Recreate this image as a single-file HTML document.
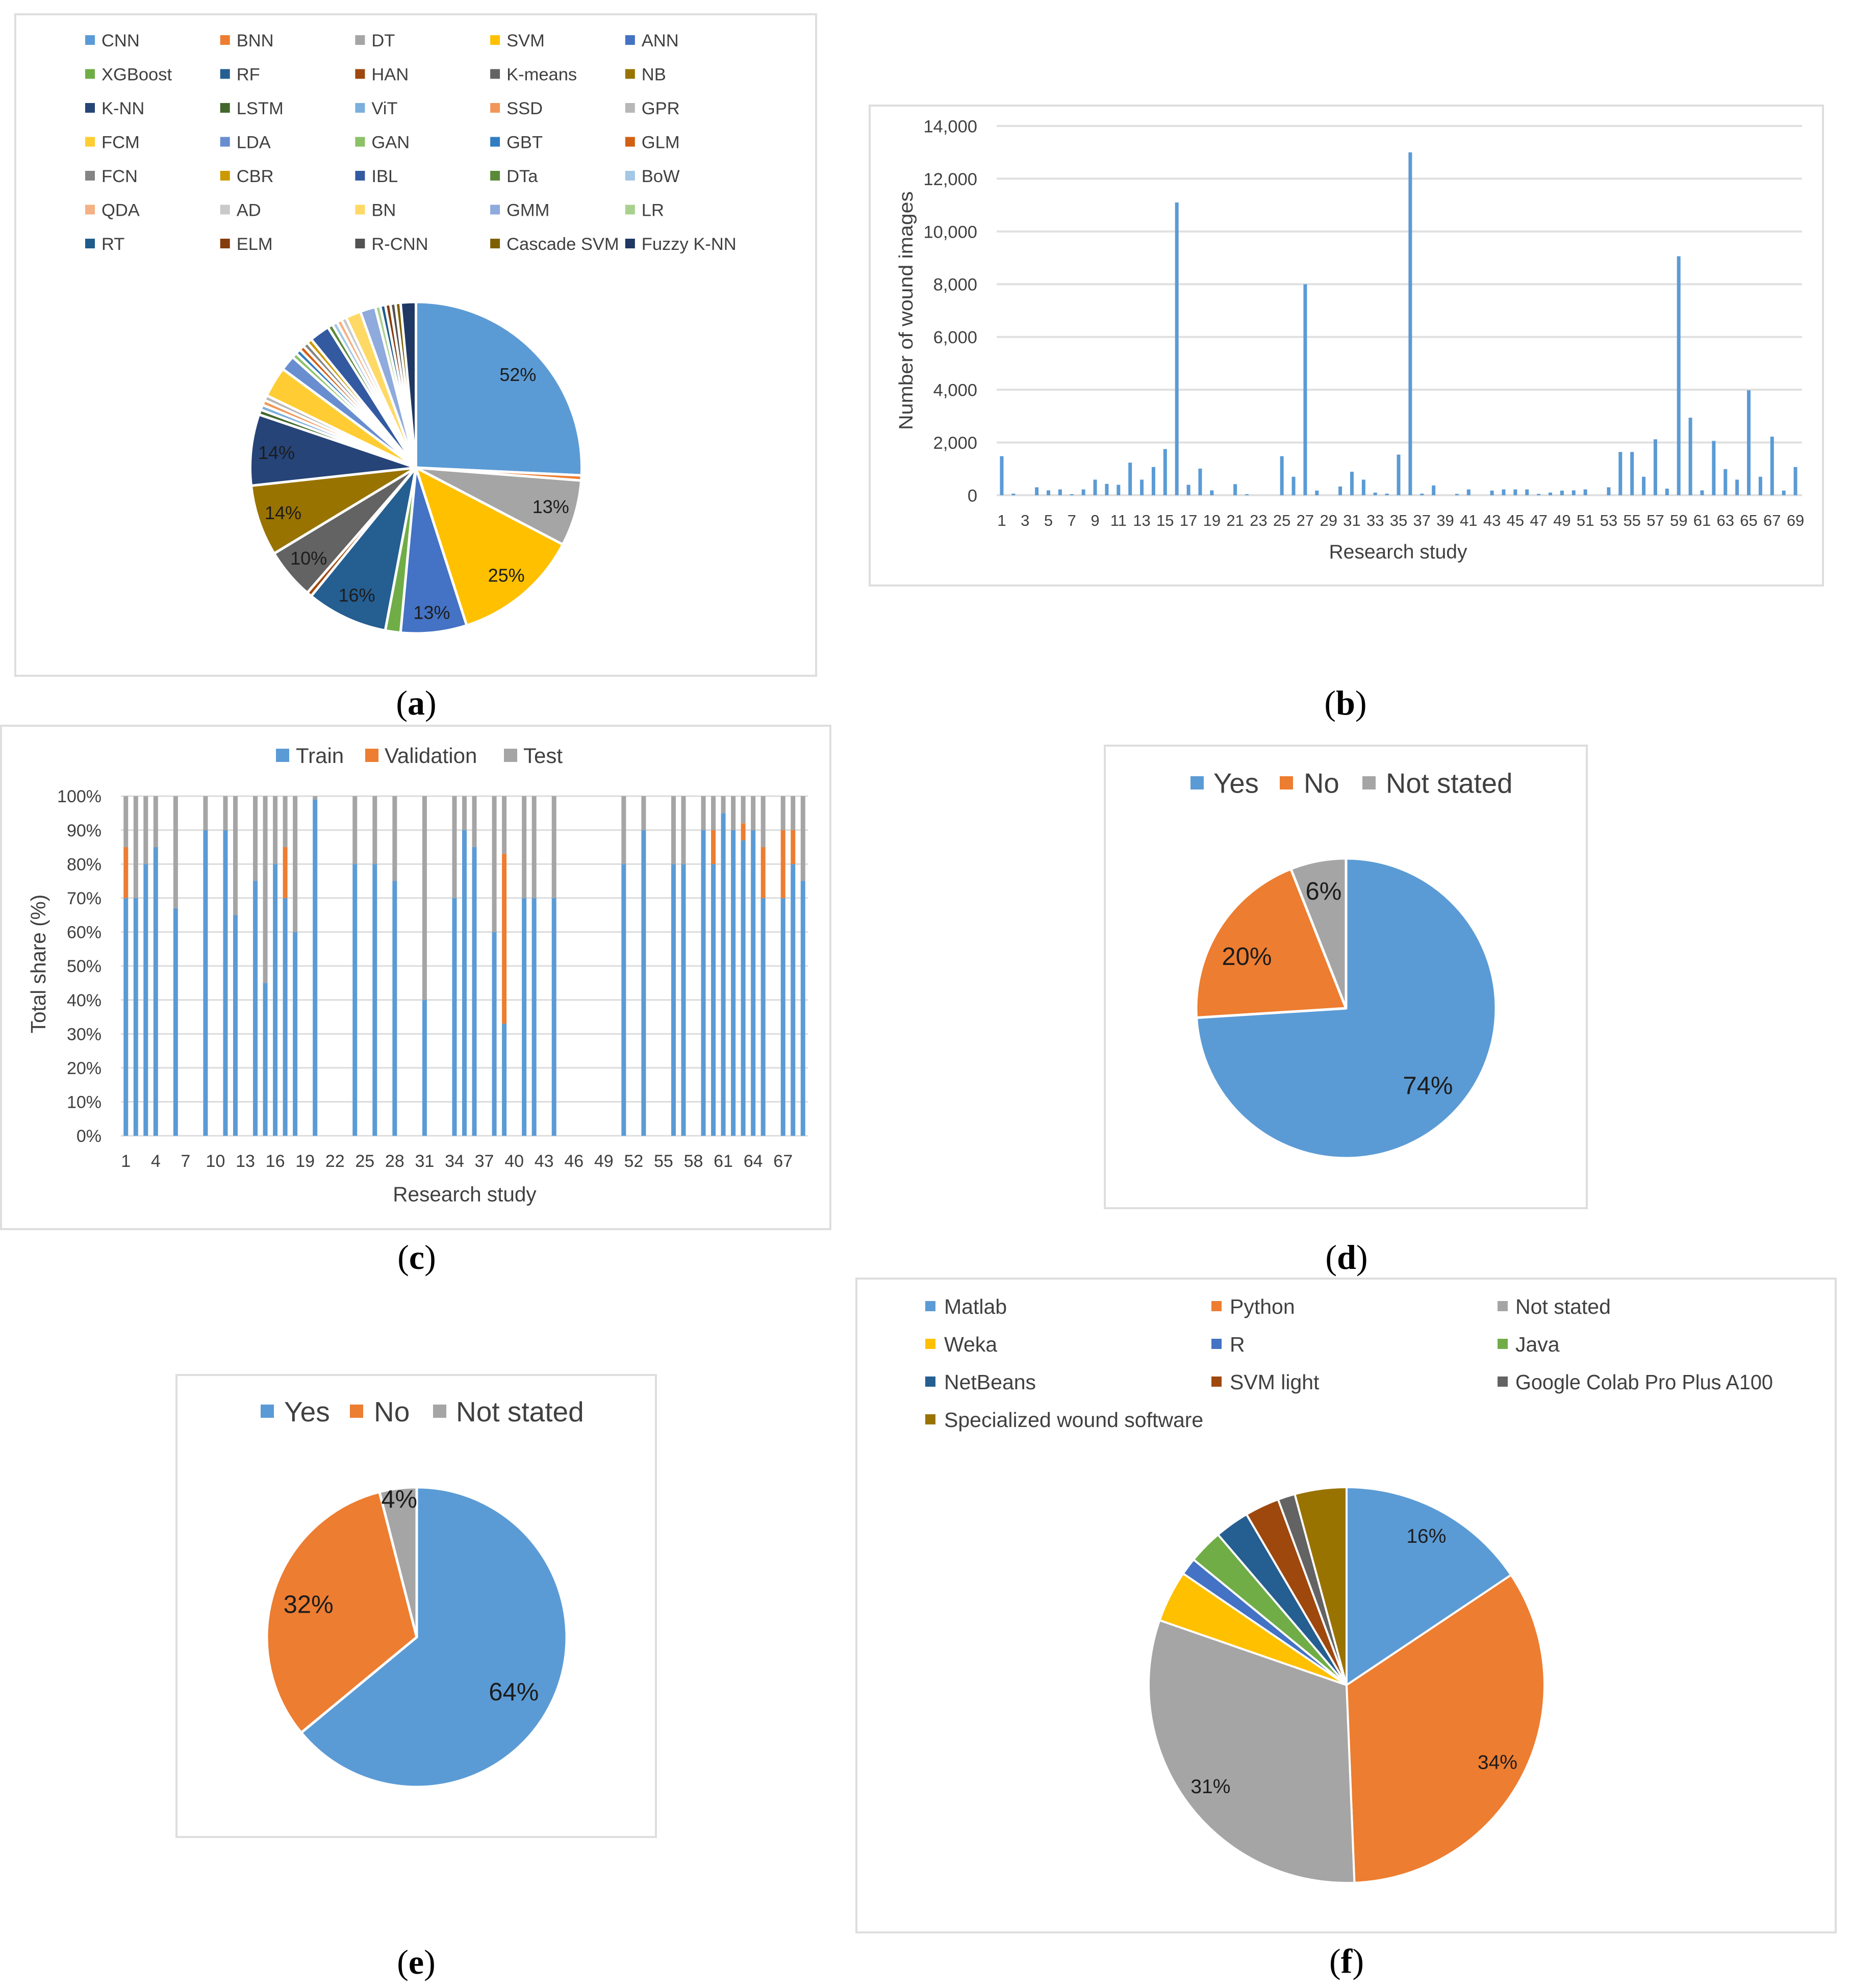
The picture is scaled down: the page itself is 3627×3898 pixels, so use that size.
<!DOCTYPE html>
<html lang="en">
<head>
<meta charset="utf-8">
<title>Wound image analysis study charts</title>
<style>
html,body{margin:0;padding:0;background:#fff;}
body{width:3627px;height:3898px;overflow:hidden;}
svg{display:block;}
text{font-family:"Liberation Sans",sans-serif;}
.cap{font-family:"Liberation Serif",serif;font-size:68px;fill:#000;text-anchor:middle;}
.cap tspan{font-weight:bold;}
.frame{fill:#fff;stroke:#dedede;stroke-width:4;}
</style>
</head>
<body>
<svg id="figure" xmlns="http://www.w3.org/2000/svg" width="3627" height="3898" viewBox="0 0 3627 3898">
  <rect class="frame" x="30" y="28" width="1570" height="1297"/>
  <rect class="frame" x="1705" y="207" width="1869" height="941"/>
  <rect class="frame" x="2" y="1423" width="1626" height="987"/>
  <rect class="frame" x="2166" y="1462" width="945" height="907"/>
  <rect class="frame" x="346" y="2696" width="940" height="906"/>
  <rect class="frame" x="1679" y="2507" width="1920" height="1282"/>
  <g id="chart-a"></g>
  <g id="chart-b"></g>
  <g id="chart-c"></g>
  <g id="chart-d"></g>
  <g id="chart-e"></g>
  <g id="chart-f"></g>
  <text class="cap" x="816" y="1401">(<tspan>a</tspan>)</text>
  <text class="cap" x="2638" y="1401">(<tspan>b</tspan>)</text>
  <text class="cap" x="817" y="2488">(<tspan>c</tspan>)</text>
  <text class="cap" x="2640" y="2488">(<tspan>d</tspan>)</text>
  <text class="cap" x="816" y="3870">(<tspan>e</tspan>)</text>
  <text class="cap" x="2640" y="3868">(<tspan>f</tspan>)</text>
</svg>
<script>
/* ---------- chart data ---------- */
const algorithmNames = ['CNN','BNN','DT','SVM','ANN','XGBoost','RF','HAN','K-means','NB','K-NN','LSTM','ViT','SSD','GPR','FCM','LDA','GAN','GBT','GLM','FCN','CBR','IBL','DTa','BoW','QDA','AD','BN','GMM','LR','RT','ELM','R-CNN','Cascade SVM','Fuzzy K-NN'];
const algorithmValues = [52,1,13,25,13,3,16,1,10,14,14,1,1,1,1,6,3,1,1,1,1,1,4,1,1,1,1,3,3,1,1,1,1,1,3];
const algorithmColors = ['#5B9BD5','#ED7D31','#A5A5A5','#FFC000','#4472C4','#70AD47','#255E91','#9E480E','#636363','#997300','#264478','#43682B','#7CAFDD','#F1975A','#B7B7B7','#FFCD33','#698ED0','#8CC168','#327DC2','#D26012','#848484','#CC9A00','#335AA1','#5A8A39','#A3C7E5','#F4B183','#C9C9C9','#FFD966','#8FAADC','#A9D18E','#1F5C8C','#843C0C','#525252','#7F6000','#1F3864'];

const imageCounts = [1480,60,0,300,185,220,40,220,590,430,395,1235,590,1070,1750,11100,395,1010,185,0,420,40,0,0,1480,700,8000,175,0,330,890,590,100,60,1540,13000,60,370,0,50,220,0,175,220,220,220,50,100,175,185,220,0,300,1640,1640,700,2120,250,9060,2940,185,2060,990,590,3980,700,2220,175,1070];
const imageTicks = [0,2000,4000,6000,8000,10000,12000,14000];

const trainShare = [70,70,80,85,0,67,0,0,90,0,90,65,0,75,45,80,70,60,0,99,0,0,0,80,0,80,0,75,0,0,40,0,0,70,90,85,0,60,33,0,70,70,0,70,0,0,0,0,0,0,80,0,90,0,0,80,80,0,90,80,95,90,87,90,70,0,70,80,75];
const validationShare = [15,0,0,0,0,0,0,0,0,0,0,0,0,0,0,0,15,0,0,0,0,0,0,0,0,0,0,0,0,0,0,0,0,0,0,0,0,0,50,0,0,0,0,0,0,0,0,0,0,0,0,0,0,0,0,0,0,0,0,10,0,0,5,0,15,0,20,10,0];
const testShare = [15,30,20,15,0,33,0,0,10,0,10,35,0,25,55,20,15,40,0,1,0,0,0,20,0,20,0,25,0,0,60,0,0,30,10,15,0,40,17,0,30,30,0,30,0,0,0,0,0,0,20,0,10,0,0,20,20,0,10,10,5,10,8,10,15,0,10,10,25];
const shareTicks = [0,10,20,30,40,50,60,70,80,90,100];
const splitNames = ['Train','Validation','Test'];

const answerNames = ['Yes','No','Not stated'];
const answerColors = ['#5B9BD5','#ED7D31','#A5A5A5'];
const answerValuesD = [74,20,6];
const answerValuesE = [64,32,4];

const softwareNames = ['Matlab','Python','Not stated','Weka','R','Java','NetBeans','SVM light','Google Colab Pro Plus A100','Specialized wound software'];
const softwareValues = [11.1,24,22,3,1,2,2,2,1,3];
const softwareColors = ['#5B9BD5','#ED7D31','#A5A5A5','#FFC000','#4472C4','#70AD47','#255E91','#9E480E','#636363','#997300'];

/* ---------- helpers ---------- */
const NS = 'http://www.w3.org/2000/svg';
const TEXT_GREY = '#404040';
function make(parent, tag, attrs) {
  const node = document.createElementNS(NS, tag);
  for (const k in attrs) node.setAttribute(k, attrs[k]);
  parent.appendChild(node);
  return node;
}
function write(parent, x, yCenter, str, size, anchor, fill) {
  const node = make(parent, 'text', {x: x, y: yCenter + size * 0.36, 'font-size': size, 'text-anchor': anchor, fill: fill});
  node.textContent = str;
  return node;
}
function kebab(s) {
  return String(s).toLowerCase().replace(/[^a-z0-9]+/g, '-');
}
function polar(cx, cy, r, deg) {
  const a = deg * Math.PI / 180;
  return [cx + r * Math.sin(a), cy - r * Math.cos(a)];
}
function drawPie(g, cx, cy, r, values, colors, names, labels, labelR, labelNudge, labelSize, gap) {
  const total = values.reduce(function (s, v) { return s + v; }, 0);
  let start = 0;
  const mids = [];
  values.forEach(function (v, i) {
    const sweep = v / total * 360;
    const p0 = polar(cx, cy, r, start);
    const p1 = polar(cx, cy, r, start + sweep);
    const slice = make(g, 'path', {
      d: 'M' + cx + ' ' + cy + 'L' + p0[0] + ' ' + p0[1] + 'A' + r + ' ' + r + ' 0 ' + (sweep > 180 ? 1 : 0) + ' 1 ' + p1[0] + ' ' + p1[1] + 'Z',
      fill: colors[i], stroke: '#fff', 'stroke-width': gap, 'stroke-linejoin': 'round'
    });
    
    
    mids.push(start + sweep / 2);
    start += sweep;
  });
  labels.forEach(function (str, i) {
    if (!str) return;
    const radius = Array.isArray(labelR) ? labelR[i] : labelR;
    const nudge = labelNudge ? labelNudge[i] : 0;
    const p = polar(cx, cy, radius, mids[i] + nudge);
    const t = write(g, p[0], p[1], str, labelSize, 'middle', '#1c1c1c');
    
    
  });
}
function legendItem(g, mx, cy, mSize, tx, str, color, size) {
  const swatch = make(g, 'rect', {x: mx, y: cy - mSize / 2, width: mSize, height: mSize, fill: color});
  
  
  const t = write(g, tx, cy, str, size, 'start', TEXT_GREY);
  
  
  return t;
}

/* ---------- (a) algorithms pie ---------- */
(function () {
  const g = document.getElementById('chart-a');
  algorithmNames.forEach(function (name, i) {
    const col = i % 5, row = Math.floor(i / 5);
    legendItem(g, 167 + col * 264.7, 78.5 + row * 66.5, 19, 199 + col * 264.7, name, algorithmColors[i], 34.5);
  });
  const labels = algorithmValues.map(function (v) { return v >= 10 ? v + '%' : ''; });
  const labelRadius = algorithmValues.map(function (v, i) { return i === 0 ? 271 : (i === 4 ? 285 : 275); });
  const labelNudge = algorithmValues.map(function (v, i) { return i === 0 ? 1.2 : 0; });
  drawPie(g, 815.5, 917, 325, algorithmValues, algorithmColors, algorithmNames, labels, labelRadius, labelNudge, 36, 5);
})();

/* ---------- (b) wound images bars ---------- */
(function () {
  const g = document.getElementById('chart-b');
  const left = 1954, right = 3533, top = 247, bottom = 971;
  const maxY = imageTicks[imageTicks.length - 1];
  const yScale = function (v) { return bottom - v / maxY * (bottom - top); };
  const step = (right - left) / imageCounts.length;
  const xScale = function (i) { return left + step * (i + 0.5); };
  imageTicks.forEach(function (v) {
    const y = yScale(v);
    const line = make(g, 'line', {x1: left, x2: right, y1: y, y2: y, stroke: '#e0e0e0', 'stroke-width': 4});
    
    
    const t = write(g, 1916, y, v.toLocaleString('en-US'), 34.5, 'end', TEXT_GREY);
    
    
  });
  imageCounts.forEach(function (v, i) {
    if (v > 0) {
      const bar = make(g, 'rect', {x: xScale(i) - 5, y: yScale(v), width: 7, height: bottom - yScale(v), fill: '#5B9BD5'});
      
      
    }
    if (i % 2 === 0) {
      const t = write(g, xScale(i) - 1.5, 1020, String(i + 1), 31, 'middle', TEXT_GREY);
      
      
    }
  });
  const xt = write(g, 2741, 1081, 'Research study', 39, 'middle', TEXT_GREY);
  
  
  const yt = make(g, 'text', {x: 0, y: 0, 'font-size': 38, 'text-anchor': 'middle', fill: TEXT_GREY, textLength: 468, lengthAdjust: 'spacingAndGlyphs', transform: 'translate(1789 609) rotate(-90)'});
  yt.textContent = 'Number of wound images';
  
  
})();

/* ---------- (c) train / validation / test stacked bars ---------- */
(function () {
  const g = document.getElementById('chart-c');
  const left = 237, right = 1584, top = 1561, bottom = 2227;
  const yScale = function (v) { return bottom - v / 100 * (bottom - top); };
  const step = (right - left) / trainShare.length;
  const xScale = function (i) { return left + step * (i + 0.5); };
  shareTicks.forEach(function (v) {
    const y = yScale(v);
    const line = make(g, 'line', {x1: left, x2: right, y1: y, y2: y, stroke: '#dcdcdc', 'stroke-width': 3});
    
    
    const t = write(g, 199, y, v + '%', 34, 'end', TEXT_GREY);
    
    
  });
  trainShare.forEach(function (v, i) {
    const stack = [v, validationShare[i], testShare[i]];
    const fills = answerColors;
    let base = 0;
    stack.forEach(function (part, s) {
      if (part > 0) {
        const seg = make(g, 'rect', {x: xScale(i) - 4.5, y: yScale(base + part), width: 9, height: yScale(base) - yScale(base + part), fill: fills[s]});
        
        
      }
      base += part;
    });
    if (i % 3 === 0) {
      const t = write(g, xScale(i), 2276, String(i + 1), 34, 'middle', TEXT_GREY);
      
      
    }
  });
  const swatchX = [541, 716, 988];
  const labelX = [580, 754, 1026];
  splitNames.forEach(function (name, i) {
    legendItem(g, swatchX[i], 1481, 26, labelX[i], name, answerColors[i], 42);
  });
  const xt = write(g, 911, 2341, 'Research study', 40.5, 'middle', TEXT_GREY);
  
  
  const yt = make(g, 'text', {x: 0, y: 0, 'font-size': 40.5, 'text-anchor': 'middle', fill: TEXT_GREY, transform: 'translate(89 1890) rotate(-90)'});
  yt.textContent = 'Total share (%)';
  
  
})();

/* ---------- (d) and (e) yes / no pies ---------- */
(function () {
  const gd = document.getElementById('chart-d');
  const swatchD = [2334, 2509, 2671];
  const textD = [2379, 2556, 2717];
  answerNames.forEach(function (name, i) {
    legendItem(gd, swatchD[i], 1535, 26, textD[i], name, answerColors[i], 54.5);
  });
  drawPie(gd, 2639, 1977, 294, answerValuesD, answerColors, answerNames,
    answerValuesD.map(function (v) { return v + '%'; }), [220, 220, 235], [0, -4.6, 0], 49, 5);

  const ge = document.getElementById('chart-e');
  const swatchE = [511, 686, 849];
  const textE = [557, 733, 894];
  answerNames.forEach(function (name, i) {
    legendItem(ge, swatchE[i], 2767, 26, textE[i], name, answerColors[i], 55);
  });
  drawPie(ge, 817, 3210, 294, answerValuesE, answerColors, answerNames,
    answerValuesE.map(function (v) { return v + '%'; }), [218, 222, 274], [4, -1, 0], 49, 5);
})();

/* ---------- (f) software pie ---------- */
(function () {
  const g = document.getElementById('chart-f');
  softwareNames.forEach(function (name, i) {
    const col = i % 3, row = Math.floor(i / 3);
    const t = legendItem(g, 1814 + col * 561, 2561 + row * 74, 20, 1851 + col * 560, name, softwareColors[i], 41);
    if (name.length === 26 && col === 2) {
      t.setAttribute('textLength', 505);
      t.setAttribute('lengthAdjust', 'spacingAndGlyphs');
    }
  });
  const total = softwareValues.reduce(function (s, v) { return s + v; }, 0);
  const labels = softwareValues.map(function (v) {
    const pct = Math.round(v / total * 100);
    return pct >= 10 ? pct + '%' : '';
  });
  drawPie(g, 2640, 3304, 388, softwareValues, softwareColors, softwareNames, labels, 332, null, 39, 4);
})();
</script>
</body>
</html>
